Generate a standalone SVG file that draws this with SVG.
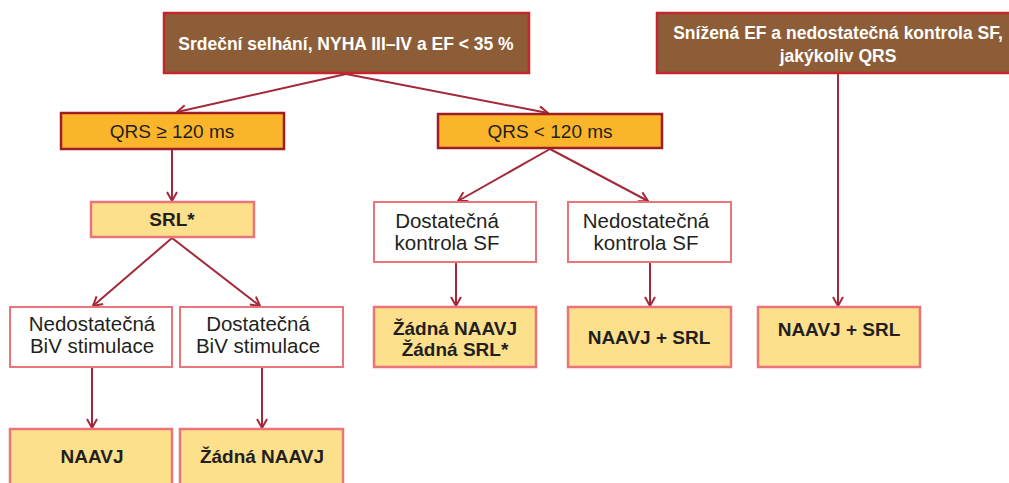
<svg xmlns="http://www.w3.org/2000/svg" width="1009" height="483" viewBox="0 0 1009 483">
<defs>
<marker id="ah" markerWidth="14" markerHeight="14" refX="10" refY="6" orient="auto" markerUnits="userSpaceOnUse">
<polyline points="1,1 10,6 1,11" fill="none" stroke="#a3283a" stroke-width="2"/>
</marker>
<style>
.brown{fill:#8c5d36;stroke:#c4262e;stroke-width:2.5}
.orange{fill:#fbb52b;stroke:#9c1f28;stroke-width:2.5}
.yellow{fill:#fde08c;stroke:#e9747a;stroke-width:2.5}
.white{fill:#ffffff;stroke:#e9747a;stroke-width:2}
.t{font-family:"Liberation Sans",Arial,sans-serif;text-anchor:middle;fill:#231f20}
.tw{font-family:"Liberation Sans",Arial,sans-serif;text-anchor:middle;fill:#ffffff;font-weight:bold;font-size:17.5px}
.b{font-weight:bold;font-size:19px}
.q{font-size:19px}
.r{font-size:20.5px}
.c{fill:none;stroke:#a3283a;stroke-width:2;marker-end:url(#ah)}
</style>
</defs>
<rect width="1009" height="483" fill="#ffffff"/>
<g id="connectors">
<line class="c" x1="346" y1="74" x2="177" y2="112"/>
<line class="c" x1="346" y1="74" x2="548" y2="113"/>
<line class="c" x1="838" y1="74" x2="838" y2="306"/>
<line class="c" x1="172" y1="150" x2="172" y2="201"/>
<line class="c" x1="172" y1="238" x2="93" y2="306"/>
<line class="c" x1="172" y1="238" x2="260" y2="306"/>
<line class="c" x1="550" y1="149" x2="458" y2="201"/>
<line class="c" x1="550" y1="149" x2="648" y2="201"/>
<line class="c" x1="92" y1="368" x2="92" y2="428"/>
<line class="c" x1="262" y1="368" x2="262" y2="428"/>
<line class="c" x1="456" y1="263" x2="456" y2="306"/>
<line class="c" x1="650" y1="263" x2="650" y2="306"/>
</g>
<g id="n_top">
<rect class="brown" x="164" y="13" width="365" height="60"/>
<text class="tw" x="346" y="50">Srdeční selhání, NYHA III–IV a EF &lt; 35 %</text>
</g>
<g id="n_top2">
<rect class="brown" x="657" y="13" width="362" height="60"/>
<text class="tw" x="838" y="39">Snížená EF a nedostatečná kontrola SF,</text>
<text class="tw" x="838" y="62">jakýkoliv QRS</text>
</g>
<g id="n_qrs_ge">
<rect class="orange" x="61" y="113" width="223" height="36"/>
<text class="t q" x="172" y="138">QRS ≥ 120 ms</text>
</g>
<g id="n_qrs_lt">
<rect class="orange" x="438" y="114" width="224" height="34"/>
<text class="t q" x="550" y="138">QRS &lt; 120 ms</text>
</g>
<g id="n_srl">
<rect class="yellow" x="91" y="202" width="163" height="35"/>
<text class="t b" x="172" y="226">SRL*</text>
</g>
<g id="n_dost_sf">
<rect class="white" x="374" y="202" width="162" height="60"/>
<text class="t r" x="447" y="228">Dostatečná</text>
<text class="t r" x="447" y="250">kontrola SF</text>
</g>
<g id="n_nedost_sf">
<rect class="white" x="568" y="202" width="163" height="60"/>
<text class="t r" x="646" y="228">Nedostatečná</text>
<text class="t r" x="646" y="250">kontrola SF</text>
</g>
<g id="n_nedost_biv">
<rect class="white" x="10" y="307" width="162" height="60"/>
<text class="t r" x="92" y="331">Nedostatečná</text>
<text class="t r" x="92" y="353">BiV stimulace</text>
</g>
<g id="n_dost_biv">
<rect class="white" x="180" y="307" width="163" height="60"/>
<text class="t r" x="258" y="331">Dostatečná</text>
<text class="t r" x="258" y="353">BiV stimulace</text>
</g>
<g id="n_naavj">
<rect class="yellow" x="10" y="429" width="162" height="60"/>
<text class="t b" x="92" y="463">NAAVJ</text>
</g>
<g id="n_zadna_naavj">
<rect class="yellow" x="180" y="429" width="163" height="60"/>
<text class="t b" x="262" y="463">Žádná NAAVJ</text>
</g>
<g id="n_zadna_both">
<rect class="yellow" x="374" y="307" width="162" height="60"/>
<text class="t b" x="455" y="335">Žádná NAAVJ</text>
<text class="t b" x="455" y="356">Žádná SRL*</text>
</g>
<g id="n_naavj_srl1">
<rect class="yellow" x="568" y="307" width="163" height="60"/>
<text class="t b" x="649" y="344">NAAVJ + SRL</text>
</g>
<g id="n_naavj_srl2">
<rect class="yellow" x="758" y="307" width="162" height="60"/>
<text class="t b" x="839" y="336">NAAVJ + SRL</text>
</g>
</svg>
